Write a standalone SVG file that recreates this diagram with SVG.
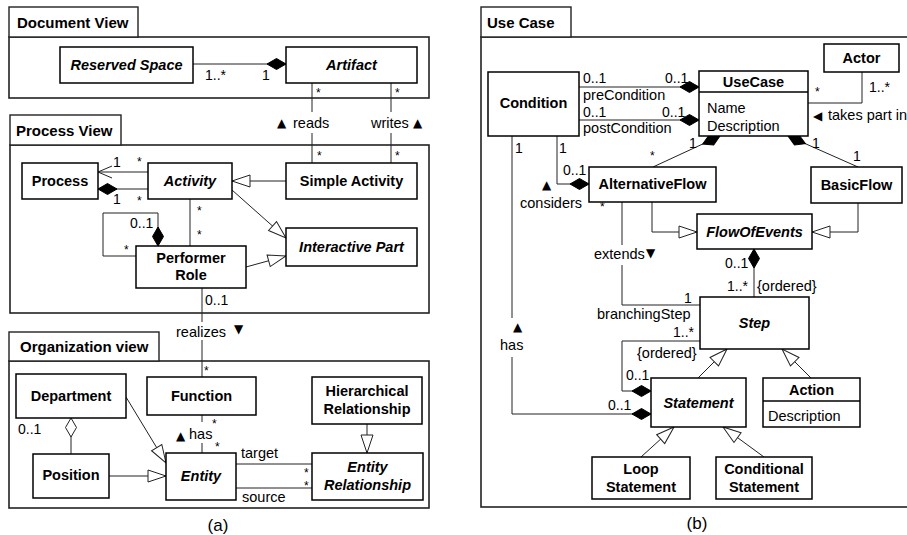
<svg xmlns="http://www.w3.org/2000/svg" width="907" height="535" viewBox="0 0 907 535">
<defs>
<style>
text{font-family:"Liberation Sans",Arial,sans-serif;fill:#000}
.n{font-size:14.5px;font-weight:bold;text-anchor:middle}
.ni{font-size:14.5px;font-weight:bold;font-style:italic;text-anchor:middle}
.t{font-size:15px;font-weight:bold}
.l{font-size:14.5px}
.m{font-size:14px}
.s{font-size:12px}
.sym{font-size:12px;font-family:"DejaVu Sans",sans-serif}
.cap{font-size:17px;text-anchor:middle}
.box{fill:#fff;stroke:#000;stroke-width:1.5}
.frame{fill:none;stroke:#222;stroke-width:1.6}
.tab{fill:#fff;stroke:#222;stroke-width:1.4}
.c{fill:none;stroke:#222;stroke-width:1}
.tri{marker-end:url(#tri)}
.dia{marker-end:url(#dia)}
.hdia{marker-end:url(#hdia)}
.arr{marker-end:url(#arr)}
</style>
<marker id="tri" markerUnits="userSpaceOnUse" orient="auto" refX="0" refY="0" markerWidth="20" markerHeight="14" overflow="visible"><path d="M0,0 L-18,-6 L-18,6 Z" fill="#fff" stroke="#222" stroke-width="1"/></marker>
<marker id="dia" markerUnits="userSpaceOnUse" orient="auto" refX="0" refY="0" markerWidth="20" markerHeight="12" overflow="visible"><path d="M0,0 L-9.5,-5.5 L-19,0 L-9.5,5.5 Z" fill="#000" stroke="#000" stroke-width="1"/></marker>
<marker id="hdia" markerUnits="userSpaceOnUse" orient="auto" refX="0" refY="0" markerWidth="20" markerHeight="12" overflow="visible"><path d="M0,0 L-9.5,-5.5 L-19,0 L-9.5,5.5 Z" fill="#fff" stroke="#222" stroke-width="1"/></marker>
<marker id="arr" markerUnits="userSpaceOnUse" orient="auto" refX="0" refY="0" markerWidth="16" markerHeight="14" overflow="visible"><path d="M-14,-6 L0,0 L-14,6" fill="none" stroke="#222" stroke-width="1"/></marker>
</defs>
<rect width="907" height="535" fill="#fff"/>

<!-- Frames -->
<g id="frame-document">
<rect class="frame" x="9" y="37" width="420" height="61"/>
<rect class="tab" x="9" y="7" width="129" height="30"/>
<text class="t" x="17" y="28">Document View</text>
</g>
<g id="frame-process">
<rect class="frame" x="10" y="145" width="419" height="168"/>
<rect class="tab" x="10" y="115" width="111" height="30"/>
<text class="t" x="16" y="136">Process View</text>
</g>
<g id="frame-organization">
<rect class="frame" x="9" y="361" width="420" height="147"/>
<rect class="tab" x="9" y="332" width="150" height="29"/>
<text class="t" x="20" y="352">Organization view</text>
</g>
<g id="frame-usecase">
<rect class="frame" x="481" y="37" width="440" height="470"/>
<rect class="tab" x="481" y="7" width="90" height="30"/>
<text class="t" x="487" y="28">Use Case</text>
</g>

<!-- Connectors -->
<g id="connectors">
<!-- (a) -->
<path class="c dia" d="M193,64 L286,64"/>
<path class="c" d="M312,83 L312,112 M312,133 L312,163"/>
<path class="c" d="M391,83 L391,112 M391,133 L391,163"/>
<path class="c arr" d="M148,172 L98,172"/>
<path class="c dia" d="M148,189 L98,189"/>
<path class="c tri" d="M286,181 L232,181"/>
<path class="c tri" d="M232,190 L286,238"/>
<path class="c tri" d="M246,267 L286,256"/>
<path class="c" d="M190,199 L190,246"/>
<path class="c dia" d="M136,256 L103,256 L103,213 L158,213 L158,246"/>
<path class="c" d="M202,288 L202,322 M202,340 L202,377"/>
<path class="c hdia" d="M71,454 L71,418"/>
<path class="c tri" d="M126,397 L166,463"/>
<path class="c tri" d="M109,476 L166,476"/>
<path class="c" d="M202,415 L202,422 M202,443 L202,453"/>
<path class="c tri" d="M367,424 L367,453"/>
<path class="c" d="M236,464 L312,464 M236,488 L312,488"/>
<!-- (b) -->
<path class="c dia" d="M579,87 L699,87"/>
<path class="c dia" d="M579,120 L699,120"/>
<path class="c" d="M862,72 L862,103 L808,103"/>
<path class="c dia" d="M653,167 L720,136"/>
<path class="c dia" d="M858,167 L788,136"/>
<path class="c tri" d="M652,202 L652,232 L697,232"/>
<path class="c tri" d="M858,203 L858,232 L812,232"/>
<path class="c dia" d="M557,136 L557,184 L589,184"/>
<path class="c" d="M512,136 L512,318"/>
<path class="c dia" d="M512,357 L512,414 L651,414"/>
<path class="c" d="M622,202 L622,245 M622,265 L622,305 L700,305"/>
<path class="c dia" d="M754,297 L754,249"/>
<path class="c dia" d="M700,341 L622,341 L622,391 L651,391"/>
<path class="c tri" d="M698,378 L727,349"/>
<path class="c tri" d="M811,378 L782,349"/>
<path class="c tri" d="M641,457 L674,427"/>
<path class="c tri" d="M764,457 L723,427"/>
</g>

<!-- Connector labels -->
<g id="labels">
<text class="m" x="205" y="80">1..*</text>
<text class="m" x="262" y="80">1</text>
<text class="s" x="316" y="97">*</text>
<text class="s" x="395" y="97">*</text>
<text class="sym" x="277" y="127">▲</text>
<text class="l" x="293" y="128">reads</text>
<text class="l" x="371" y="128">writes</text>
<text class="sym" x="413" y="127">▲</text>
<text class="s" x="317" y="160">*</text>
<text class="s" x="395" y="160">*</text>
<text class="m" x="113" y="167">1</text>
<text class="s" x="137" y="166">*</text>
<text class="m" x="113" y="204">1</text>
<text class="s" x="137" y="205">*</text>
<text class="s" x="197" y="215">*</text>
<text class="s" x="197" y="239">*</text>
<text class="m" x="130" y="228">0..1</text>
<text class="s" x="124" y="254">*</text>
<text class="m" x="205" y="305">0..1</text>
<text class="l" x="176" y="337">realizes</text>
<text class="sym" x="234" y="333">▼</text>
<text class="s" x="204" y="375">*</text>
<text class="m" x="18" y="434">0..1</text>
<text class="sym" x="176" y="440">▲</text>
<text class="l" x="189" y="439">has</text>
<text class="s" x="212" y="428">*</text>
<text class="s" x="215" y="451">*</text>
<text class="l" x="241" y="458">target</text>
<text class="l" x="242" y="502">source</text>
<text class="s" x="304" y="477">*</text>
<text class="s" x="304" y="490">*</text>

<text class="m" x="583" y="83">0..1</text>
<text class="m" x="665" y="83">0..1</text>
<text class="l" x="583" y="100">preCondition</text>
<text class="m" x="583" y="117">0..1</text>
<text class="m" x="662" y="117">0..1</text>
<text class="l" x="583" y="133">postCondition</text>
<text class="s" x="815" y="96">*</text>
<text class="m" x="869" y="92">1..*</text>
<text class="sym" x="813" y="120">◀</text>
<text class="l" x="828" y="120">takes part in</text>
<text class="m" x="689" y="148">1</text>
<text class="s" x="650" y="160">*</text>
<text class="m" x="812" y="148">1</text>
<text class="m" x="853" y="161">1</text>
<text class="m" x="559" y="153">1</text>
<text class="m" x="563" y="175">0..1</text>
<text class="sym" x="542" y="189">▲</text>
<text class="l" x="520" y="208">considers</text>
<text class="s" x="600" y="211">*</text>
<text class="m" x="515" y="153">1</text>
<text class="sym" x="513" y="331">▲</text>
<text class="l" x="500" y="350">has</text>
<text class="m" x="608" y="410">0..1</text>
<text class="l" x="594" y="259">extends</text>
<text class="sym" x="646" y="257">▼</text>
<text class="m" x="684" y="303">1</text>
<text class="l" x="597" y="319">branchingStep</text>
<text class="m" x="673" y="337">1..*</text>
<text class="m" x="725" y="268">0..1</text>
<text class="m" x="727" y="291">1..*</text>
<text class="l" x="757" y="291">{ordered}</text>
<text class="l" x="637" y="358">{ordered}</text>
<text class="m" x="626" y="380">0..1</text>

<text class="cap" x="218" y="531">(a)</text>
<text class="cap" x="697" y="529">(b)</text>
</g>

<!-- Nodes (a) -->
<g id="reserved-space"><rect class="box" x="60" y="47" width="133" height="36"/><text class="ni" x="126.5" y="70">Reserved Space</text></g>
<g id="artifact"><rect class="box" x="286" y="47" width="131" height="36"/><text class="ni" x="351.5" y="70">Artifact</text></g>
<g id="process"><rect class="box" x="22" y="163" width="76" height="36"/><text class="n" x="60" y="186">Process</text></g>
<g id="activity"><rect class="box" x="148" y="163" width="84" height="36"/><text class="ni" x="190" y="186">Activity</text></g>
<g id="simple-activity"><rect class="box" x="286" y="163" width="131" height="36"/><text class="n" x="351.5" y="186">Simple Activity</text></g>
<g id="interactive-part"><rect class="box" x="286" y="228" width="131" height="38"/><text class="ni" x="351.5" y="252">Interactive Part</text></g>
<g id="performer-role"><rect class="box" x="136" y="246" width="110" height="42"/><text class="n" x="191" y="263">Performer</text><text class="n" x="191" y="280">Role</text></g>
<g id="department"><rect class="box" x="16" y="374" width="110" height="44"/><text class="n" x="71" y="401">Department</text></g>
<g id="function"><rect class="box" x="147" y="377" width="109" height="38"/><text class="n" x="201.5" y="401">Function</text></g>
<g id="hierarchical-relationship"><rect class="box" x="312" y="377" width="110" height="47"/><text class="n" x="367" y="396">Hierarchical</text><text class="n" x="367" y="414">Relationship</text></g>
<g id="position"><rect class="box" x="33" y="454" width="76" height="44"/><text class="n" x="71" y="480">Position</text></g>
<g id="entity"><rect class="box" x="166" y="453" width="70" height="47"/><text class="ni" x="201" y="481">Entity</text></g>
<g id="entity-relationship"><rect class="box" x="312" y="453" width="111" height="47"/><text class="ni" x="367.5" y="472">Entity</text><text class="ni" x="367.5" y="490">Relationship</text></g>

<!-- Nodes (b) -->
<g id="condition"><rect class="box" x="488" y="72" width="91" height="64"/><text class="n" x="533.5" y="108">Condition</text></g>
<g id="actor"><rect class="box" x="824" y="44" width="75" height="28"/><text class="n" x="861.5" y="63">Actor</text></g>
<g id="usecase"><rect class="box" x="699" y="71" width="109" height="65"/><line x1="699" y1="92" x2="808" y2="92" stroke="#000" stroke-width="1.5"/><text class="n" x="753.5" y="87">UseCase</text><text class="l" x="707" y="113">Name</text><text class="l" x="707" y="131">Description</text></g>
<g id="alternative-flow"><rect class="box" x="589" y="167" width="127" height="35"/><text class="n" x="652.5" y="189">AlternativeFlow</text></g>
<g id="basic-flow"><rect class="box" x="811" y="167" width="91" height="36"/><text class="n" x="856.5" y="190">BasicFlow</text></g>
<g id="flow-of-events"><rect class="box" x="697" y="214" width="115" height="35"/><text class="ni" x="754.5" y="237">FlowOfEvents</text></g>
<g id="step"><rect class="box" x="700" y="297" width="109" height="52"/><text class="ni" x="754.5" y="328">Step</text></g>
<g id="statement"><rect class="box" x="651" y="378" width="95" height="49"/><text class="ni" x="698.5" y="408">Statement</text></g>
<g id="action"><rect class="box" x="763" y="378" width="97" height="49"/><line x1="763" y1="401" x2="860" y2="401" stroke="#000" stroke-width="1.5"/><text class="n" x="811.5" y="395">Action</text><text class="l" x="768" y="421">Description</text></g>
<g id="loop-statement"><rect class="box" x="592" y="457" width="98" height="42"/><text class="n" x="641" y="474">Loop</text><text class="n" x="641" y="492">Statement</text></g>
<g id="conditional-statement"><rect class="box" x="716" y="457" width="96" height="42"/><text class="n" x="764" y="474">Conditional</text><text class="n" x="764" y="492">Statement</text></g>
</svg>
